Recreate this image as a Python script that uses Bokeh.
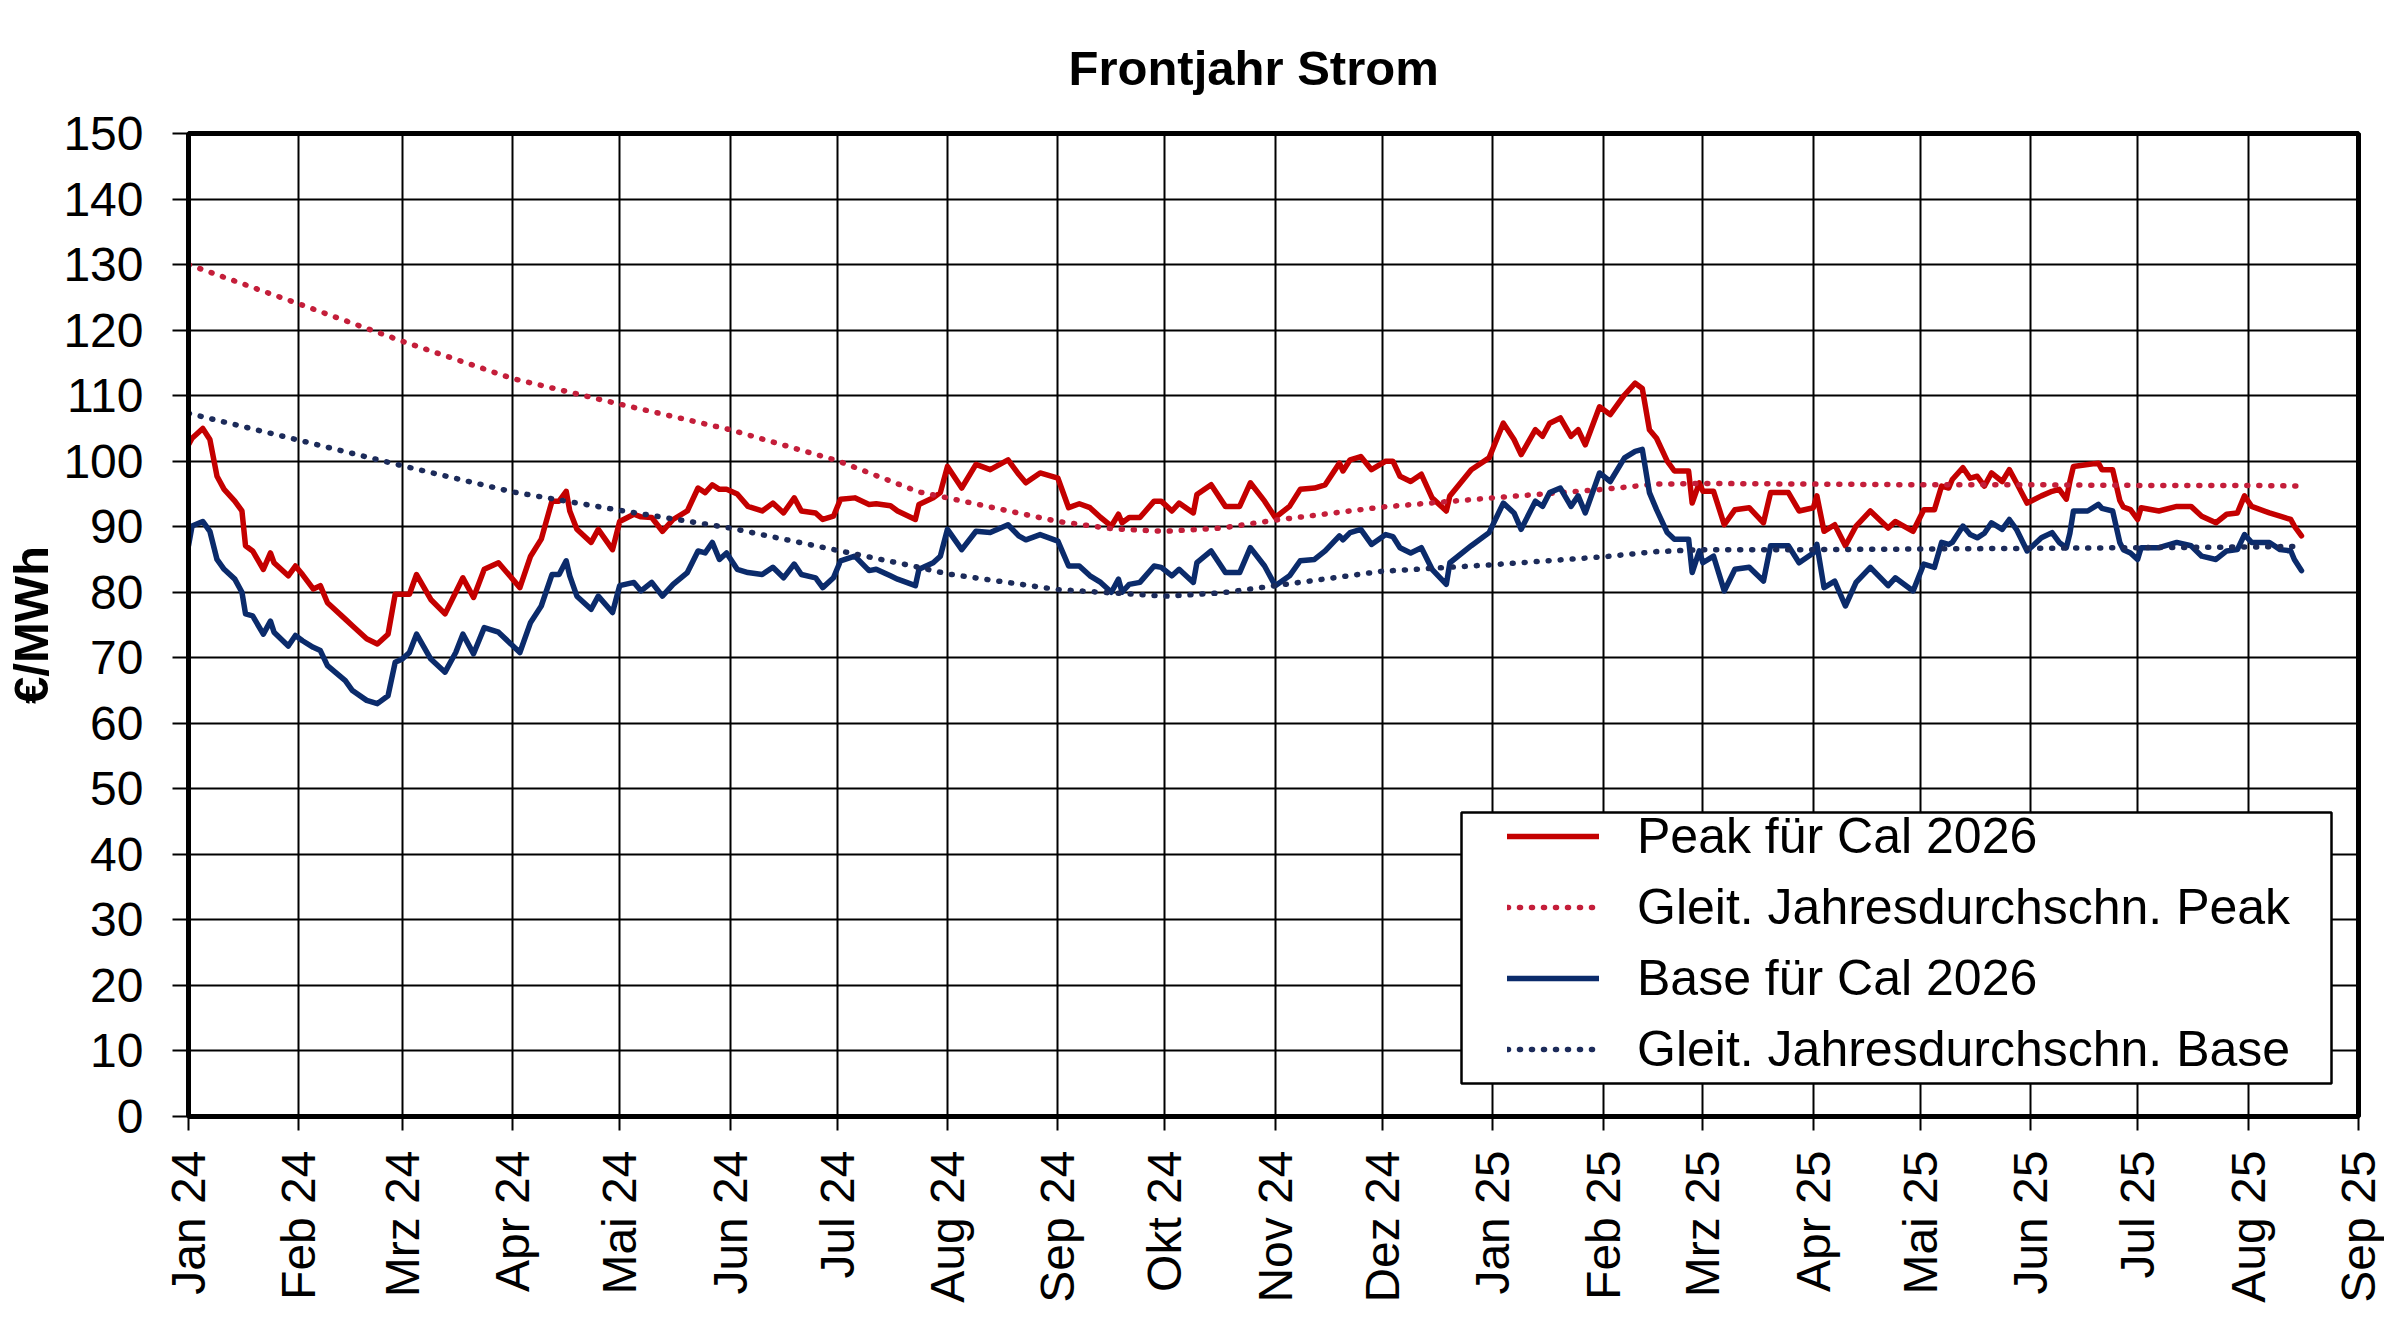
import math
import pandas as pd
from bokeh.plotting import figure
from bokeh.models import Range1d, FixedTicker, Legend, LegendItem, BoxAnnotation, ColumnDataSource
from bokeh.embed import file_html
from bokeh.resources import INLINE

# ---------------- data ----------------
dates = [
    "2024-01-01", "2024-01-02", "2024-01-05", "2024-01-07", "2024-01-09", "2024-01-11", "2024-01-14", "2024-01-16",
    "2024-01-17", "2024-01-19", "2024-01-22", "2024-01-24", "2024-01-25", "2024-01-29", "2024-01-31",
    "2024-02-02", "2024-02-05", "2024-02-07", "2024-02-09", "2024-02-14", "2024-02-16", "2024-02-20", "2024-02-23",
    "2024-02-26", "2024-02-28",
    "2024-03-01", "2024-03-03", "2024-03-05", "2024-03-09", "2024-03-13", "2024-03-16", "2024-03-18", "2024-03-21",
    "2024-03-24", "2024-03-28",
    "2024-04-03", "2024-04-06", "2024-04-09", "2024-04-12", "2024-04-14", "2024-04-16", "2024-04-17", "2024-04-19",
    "2024-04-23", "2024-04-25", "2024-04-29",
    "2024-05-01", "2024-05-05", "2024-05-07", "2024-05-10", "2024-05-13", "2024-05-16", "2024-05-20", "2024-05-23",
    "2024-05-25", "2024-05-27", "2024-05-29", "2024-05-31",
    "2024-06-03", "2024-06-06", "2024-06-10", "2024-06-13", "2024-06-16", "2024-06-19", "2024-06-21", "2024-06-25",
    "2024-06-27", "2024-06-30",
    "2024-07-02", "2024-07-06", "2024-07-10", "2024-07-12", "2024-07-16", "2024-07-18", "2024-07-23", "2024-07-24",
    "2024-07-28", "2024-07-30",
    "2024-08-01", "2024-08-05", "2024-08-09", "2024-08-13", "2024-08-18", "2024-08-21", "2024-08-23", "2024-08-27",
    "2024-09-01", "2024-09-04", "2024-09-07", "2024-09-10", "2024-09-13", "2024-09-16", "2024-09-18", "2024-09-19",
    "2024-09-21", "2024-09-24", "2024-09-28", "2024-09-30",
    "2024-10-03", "2024-10-05", "2024-10-09", "2024-10-10", "2024-10-14", "2024-10-18", "2024-10-22", "2024-10-25",
    "2024-10-29",
    "2024-11-01", "2024-11-05", "2024-11-08", "2024-11-12", "2024-11-15", "2024-11-19", "2024-11-20", "2024-11-22",
    "2024-11-25", "2024-11-28",
    "2024-12-02", "2024-12-04", "2024-12-06", "2024-12-09", "2024-12-12", "2024-12-15", "2024-12-19", "2024-12-20",
    "2024-12-26", "2024-12-31",
    "2025-01-04", "2025-01-07", "2025-01-09", "2025-01-13", "2025-01-15", "2025-01-17", "2025-01-20", "2025-01-23",
    "2025-01-25", "2025-01-27", "2025-01-31",
    "2025-02-03", "2025-02-07", "2025-02-10", "2025-02-12", "2025-02-14", "2025-02-16", "2025-02-19", "2025-02-21",
    "2025-02-25", "2025-02-26", "2025-02-28",
    "2025-03-01", "2025-03-04", "2025-03-07", "2025-03-10", "2025-03-14", "2025-03-18", "2025-03-20", "2025-03-25",
    "2025-03-28",
    "2025-04-01", "2025-04-02", "2025-04-04", "2025-04-07", "2025-04-10", "2025-04-13", "2025-04-17", "2025-04-22",
    "2025-04-24", "2025-04-29",
    "2025-05-02", "2025-05-05", "2025-05-07", "2025-05-09", "2025-05-10", "2025-05-13", "2025-05-15", "2025-05-17",
    "2025-05-19", "2025-05-21", "2025-05-24", "2025-05-26", "2025-05-28", "2025-05-31",
    "2025-06-04", "2025-06-07", "2025-06-09", "2025-06-11", "2025-06-12", "2025-06-13", "2025-06-17", "2025-06-20",
    "2025-06-21", "2025-06-24", "2025-06-26", "2025-06-27", "2025-06-29",
    "2025-07-01", "2025-07-02", "2025-07-07", "2025-07-12", "2025-07-16", "2025-07-19", "2025-07-23", "2025-07-26",
    "2025-07-29", "2025-07-31",
    "2025-08-02", "2025-08-07", "2025-08-10", "2025-08-13", "2025-08-14", "2025-08-16",
]

peak = [
    102.5, 103.5, 105.0, 103.3, 97.7, 95.7, 93.9, 92.4, 87.1, 86.3, 83.5, 86.0, 84.5, 82.5, 84.0,
    82.7, 80.5, 81.0, 78.4, 75.9, 74.9, 72.9, 72.1, 73.6, 79.7,
    79.7, 79.7, 82.7, 78.9, 76.7, 80.0, 82.2, 79.2, 83.5, 84.5,
    80.7, 85.5, 88.1, 93.9, 93.9, 95.4, 92.4, 89.6, 87.6, 89.6, 86.5,
    90.8, 91.9, 91.5, 91.4, 89.3, 91.1, 92.4, 95.9, 95.2, 96.4, 95.7, 95.7,
    95.0, 93.1, 92.4, 93.6, 92.1, 94.4, 92.4, 92.1, 91.1, 91.6,
    94.2, 94.4, 93.4, 93.5, 93.2, 92.4, 91.1, 93.4, 94.4, 95.2,
    99.2, 95.9, 99.5, 98.7, 100.2, 98.0, 96.7, 98.2,
    97.4, 92.9, 93.5, 92.9, 91.4, 90.1, 91.9, 90.6, 91.4, 91.4, 93.9, 93.9,
    92.4, 93.6, 92.1, 94.9, 96.4, 93.1, 93.1, 96.7, 93.9,
    91.4, 93.1, 95.7, 95.9, 96.4, 99.7, 98.5, 100.2, 100.7, 98.7,
    100.0, 100.0, 97.7, 96.9, 98.0, 94.4, 92.4, 94.7, 98.7, 100.5,
    105.8, 103.3, 101.0, 104.8, 103.8, 105.8, 106.6, 103.8, 104.8, 102.5, 108.3,
    107.1, 110.1, 111.9, 111.1, 104.8, 103.5, 100.0, 98.5, 98.5, 93.6, 96.7,
    95.4, 95.4, 90.3, 92.6, 92.9, 90.6, 95.2, 95.2, 92.4,
    92.9, 94.7, 89.3, 90.3, 87.1, 90.1, 92.4, 89.8, 90.8, 89.3,
    92.6, 92.6, 96.2, 95.9, 97.2, 99.0, 97.4, 97.7, 96.2, 98.2, 96.9, 98.7, 96.7, 93.6,
    94.7, 95.4, 95.7, 94.2, 96.9, 99.2, 99.5, 99.7, 98.7, 98.7, 94.0, 93.0, 92.6,
    91.1, 92.9, 92.4, 93.1, 93.1, 91.6, 90.6, 91.9, 92.1, 94.7,
    93.1, 92.1, 91.6, 91.1, 90.1, 88.6,
]

base = [
    87.1, 90.1, 90.8, 89.3, 85.0, 83.5, 82.0, 80.0, 76.7, 76.4, 73.6, 75.6, 73.9, 71.8, 73.4,
    72.6, 71.6, 71.1, 68.8, 66.5, 65.0, 63.5, 63.0, 64.2, 69.3,
    69.8, 70.8, 73.6, 69.8, 67.8, 70.8, 73.6, 70.6, 74.6, 73.9,
    70.8, 75.4, 77.9, 82.7, 82.7, 84.8, 82.5, 79.4, 77.4, 79.4, 76.9,
    81.0, 81.5, 80.2, 81.5, 79.4, 81.2, 83.0, 86.3, 86.0, 87.6, 85.0, 86.0,
    83.5, 83.0, 82.7, 83.8, 82.2, 84.3, 82.7, 82.2, 80.7, 82.2,
    84.8, 85.5, 83.3, 83.5, 82.5, 82.0, 81.0, 83.5, 84.5, 85.5,
    89.6, 86.5, 89.3, 89.1, 90.3, 88.6, 88.0, 88.8,
    87.8, 84.0, 84.0, 82.5, 81.5, 80.0, 82.0, 80.0, 81.2, 81.5, 84.0, 83.8,
    82.5, 83.5, 81.5, 84.5, 86.3, 83.0, 83.0, 86.8, 84.0,
    81.0, 82.5, 84.8, 85.0, 86.3, 88.6, 88.0, 89.1, 89.6, 87.3,
    88.8, 88.5, 86.8, 86.0, 86.8, 83.5, 81.2, 84.5, 87.1, 89.1,
    93.6, 92.1, 89.6, 93.9, 93.1, 95.2, 95.9, 93.1, 94.7, 92.1, 98.2,
    96.9, 100.5, 101.5, 101.8, 95.2, 92.6, 89.1, 88.1, 88.1, 83.0, 86.3,
    84.5, 85.5, 80.2, 83.5, 83.8, 81.7, 87.1, 87.1, 84.5,
    86.0, 87.3, 80.7, 81.7, 77.9, 81.5, 83.8, 81.0, 82.2, 80.2,
    84.3, 83.8, 87.6, 87.3, 87.6, 90.1, 88.8, 88.3, 89.0, 90.6, 89.6, 91.1, 89.6, 86.3,
    88.3, 89.1, 87.6, 86.8, 89.0, 92.4, 92.4, 93.4, 92.8, 92.4, 87.6, 86.5, 86.0,
    85.0, 86.8, 86.8, 87.6, 87.1, 85.5, 85.0, 86.3, 86.5, 88.8,
    87.6, 87.6, 86.5, 86.3, 85.0, 83.3,
]

ma_dates = [
    "2024-01-01", "2024-02-01", "2024-03-01", "2024-04-01", "2024-05-01", "2024-06-01", "2024-07-01",
    "2024-07-24", "2024-08-01", "2024-09-01", "2024-09-16", "2024-10-01", "2024-10-17", "2024-11-01",
    "2024-12-01", "2025-01-01", "2025-02-01", "2025-02-16", "2025-03-01", "2025-04-01", "2025-05-01",
    "2025-06-01", "2025-07-01", "2025-08-01", "2025-08-16",
]
peak_ma = [130.0, 124.0, 118.3, 112.6, 108.7, 104.8, 100.1, 95.3, 94.4, 90.8, 89.7, 89.3, 89.8, 91.0,
           93.0, 94.4, 95.7, 96.5, 96.6, 96.5, 96.4, 96.4, 96.3, 96.3, 96.2]
base_ma = [107.3, 103.2, 99.3, 95.3, 92.5, 89.8, 86.4, 83.8, 82.8, 80.4, 79.9, 79.4, 79.9, 81.0,
           83.2, 84.2, 85.4, 86.2, 86.5, 86.5, 86.6, 86.7, 86.8, 86.9, 87.0]

month_labels = ["Jan 24", "Feb 24", "Mrz 24", "Apr 24", "Mai 24", "Jun 24", "Jul 24", "Aug 24",
                "Sep 24", "Okt 24", "Nov 24", "Dez 24", "Jan 25", "Feb 25", "Mrz 25", "Apr 25",
                "Mai 25", "Jun 25", "Jul 25", "Aug 25", "Sep 25"]
y_ticks = list(range(0, 151, 10))

series_labels = ["Peak für Cal 2026", "Gleit. Jahresdurchschn. Peak",
                 "Base für Cal 2026", "Gleit. Jahresdurchschn. Base"]
title_text = "Frontjahr Strom"
y_label_text = "€/MWh"

assert len(dates) == len(peak) == len(base)

# ---------------- build ----------------
start = pd.Timestamp("2024-01-01")


def to_days(ds):
    return [(pd.Timestamp(d) - start).days for d in ds]


month_starts = pd.date_range("2024-01-01", "2025-09-01", freq="MS")
tick_pos = [int((m - start).days) for m in month_starts]

src = ColumnDataSource(dict(x=to_days(dates), peak=peak, base=base))
src_ma = ColumnDataSource(dict(x=to_days(ma_dates), peak=peak_ma, base=base_ma))

FONT = "Liberation Sans"

p = figure(width=2384, height=1311, output_backend="svg", toolbar_location=None,
           x_range=Range1d(0, tick_pos[-1]), y_range=Range1d(0, 150),
           min_border_left=188, min_border_right=26, min_border_top=132, min_border_bottom=195,
           background_fill_color="white", border_fill_color="white")

p.outline_line_color = "black"
p.outline_line_width = 5

# grid
p.xgrid.ticker = FixedTicker(ticks=tick_pos)
p.ygrid.ticker = FixedTicker(ticks=y_ticks)
for g in (p.xgrid, p.ygrid):
    g.grid_line_color = "black"
    g.grid_line_width = 2

# x axis
xa = p.xaxis[0]
xa.ticker = FixedTicker(ticks=tick_pos)
xa.major_label_overrides = {t: lab for t, lab in zip(tick_pos, month_labels)}
xa.major_label_orientation = math.pi / 2
xa.major_tick_out = 14
xa.major_tick_in = 0
xa.minor_tick_out = 0
xa.minor_tick_in = 0
xa.major_tick_line_width = 2
xa.axis_line_width = 5
xa.major_label_standoff = 20
xa.major_label_text_font = FONT
xa.major_label_text_font_size = "48px"
xa.major_label_text_color = "black"

# y axis
ya = p.yaxis[0]
ya.ticker = FixedTicker(ticks=y_ticks)
ya.major_tick_out = 16
ya.major_tick_in = 0
ya.minor_tick_out = 0
ya.minor_tick_in = 0
ya.major_tick_line_width = 2
ya.axis_line_width = 5
ya.major_label_standoff = 29
ya.major_label_text_font = FONT
ya.major_label_text_font_size = "48px"
ya.major_label_text_color = "black"
ya.axis_label = y_label_text
ya.axis_label_text_font = FONT
ya.axis_label_text_font_style = "bold"
ya.axis_label_text_font_size = "49px"
ya.axis_label_text_color = "black"
ya.axis_label_standoff = 2

# title
p.title.text = title_text
p.title.align = "left"
p.title.offset = 880
p.title.standoff = 77
p.title.text_font = FONT
p.title.text_font_style = "bold"
p.title.text_font_size = "49px"
p.title.text_color = "black"

# lines
PEAK_C = "#C40000"
BASE_C = "#0B2B6B"
PEAK_MA_C = "#C41E3A"
BASE_MA_C = "#1C2B5A"

r_peak = p.line("x", "peak", source=src, line_color=PEAK_C, line_width=5.5, line_join="round", line_cap="round")
r_peak_ma = p.line("x", "peak", source=src_ma, line_color=PEAK_MA_C, line_width=5.5, line_dash="1 11",
                   line_cap="round")
r_base = p.line("x", "base", source=src, line_color=BASE_C, line_width=5.5, line_join="round", line_cap="round")
r_base_ma = p.line("x", "base", source=src_ma, line_color=BASE_MA_C, line_width=5.5, line_dash="1 11",
                   line_cap="round")

# legend box (canvas pixels) and legend
box = BoxAnnotation(left=1461, right=2331, top=812, bottom=1083,
                    left_units="canvas", right_units="canvas", top_units="canvas", bottom_units="canvas",
                    fill_color="white", fill_alpha=1.0, line_color="black", line_width=2.5, line_alpha=1.0,
                    level="annotation")
p.add_layout(box)

legend = Legend(items=[LegendItem(label=series_labels[0], renderers=[r_peak]),
                       LegendItem(label=series_labels[1], renderers=[r_peak_ma]),
                       LegendItem(label=series_labels[2], renderers=[r_base]),
                       LegendItem(label=series_labels[3], renderers=[r_base_ma])],
                location=(1319, 38), padding=0, margin=0, spacing=13,
                label_height=56, glyph_height=56, glyph_width=92, label_standoff=38,
                label_text_font=FONT, label_text_font_size="50px", label_text_color="black",
                border_line_alpha=0, background_fill_alpha=0)
p.add_layout(legend)

open("out.html", "w").write(file_html(p, INLINE))
